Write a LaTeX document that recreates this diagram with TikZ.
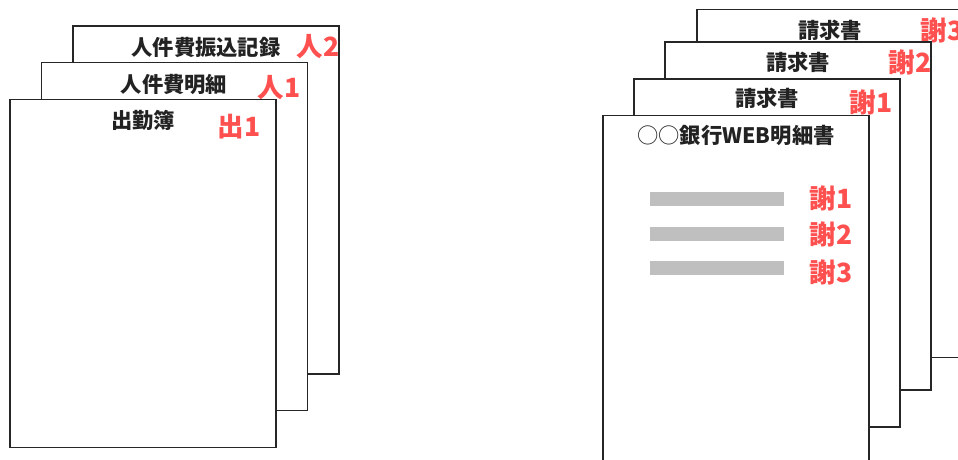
\documentclass[tikz,border=0pt]{standalone}
\usepackage{fontspec}
\newfontfamily\jp{Noto Sans CJK JP}
\definecolor{redlab}{HTML}{FF5050}
\definecolor{barg}{HTML}{BFBFBF}
\definecolor{txt}{HTML}{222222}
\tikzset{
  sheet/.style={draw=black!85, line width=1.2pt, fill=white, rectangle, anchor=north west,
    minimum width=266pt, minimum height=348pt, inner sep=0pt, outer sep=0pt},
  title/.style={font=\jp\bfseries\fontsize{21.3}{24}\selectfont, text=txt, inner sep=0pt},
  lab/.style={font=\jp\bfseries\fontsize{26.5}{30}\selectfont, text=redlab, inner sep=0pt},
  bar/.style={fill=barg, draw=none}
}
\begin{document}
\begin{tikzpicture}[x=1pt,y=-1pt]
\useasboundingbox (0,0) rectangle (958,459);
% left stack
\node[sheet] (l3) at (73,26) {};
\node[title] (t3) at (206,47) {人件費振込記録};
\node[lab] (r3) at (318,47) {人2};
\node[sheet] (l2) at (41.5,62.5) {};
\node[title] (t2) at (174,84) {人件費明細};
\node[lab] (r2) at (279,88) {人1};
\node[sheet] (l1) at (10,99.5) {};
\node[title] (t1) at (143,120) {出勤簿};
\node[lab] (r1) at (239,127) {出1};
% right stack
\node[sheet] (k4) at (697,9.5) {};
\node[title] (u4) at (830,30) {請求書};
\node[lab] (q4) at (942,30) {謝3};
\node[sheet] (k3) at (665,42) {};
\node[title] (u3) at (798,62) {請求書};
\node[lab] (q3) at (910,62) {謝2};
\node[sheet] (k2) at (634,79) {};
\node[title] (u2) at (767,98) {請求書};
\node[lab] (q2) at (871,102) {謝1};
\node[sheet] (k1) at (603,115.5) {};
\node[title] (u1) at (736,135) {{\mdseries ○○}銀行WEB明細書};
\fill[bar] (650,192) rectangle (784,205.5);
\fill[bar] (650,227) rectangle (784,240.5);
\fill[bar] (650,261) rectangle (784,274.5);
\node[lab] (b1) at (831,198) {謝1};
\node[lab] (b2) at (831,234) {謝2};
\node[lab] (b3) at (831,272) {謝3};
\end{tikzpicture}
\end{document}
